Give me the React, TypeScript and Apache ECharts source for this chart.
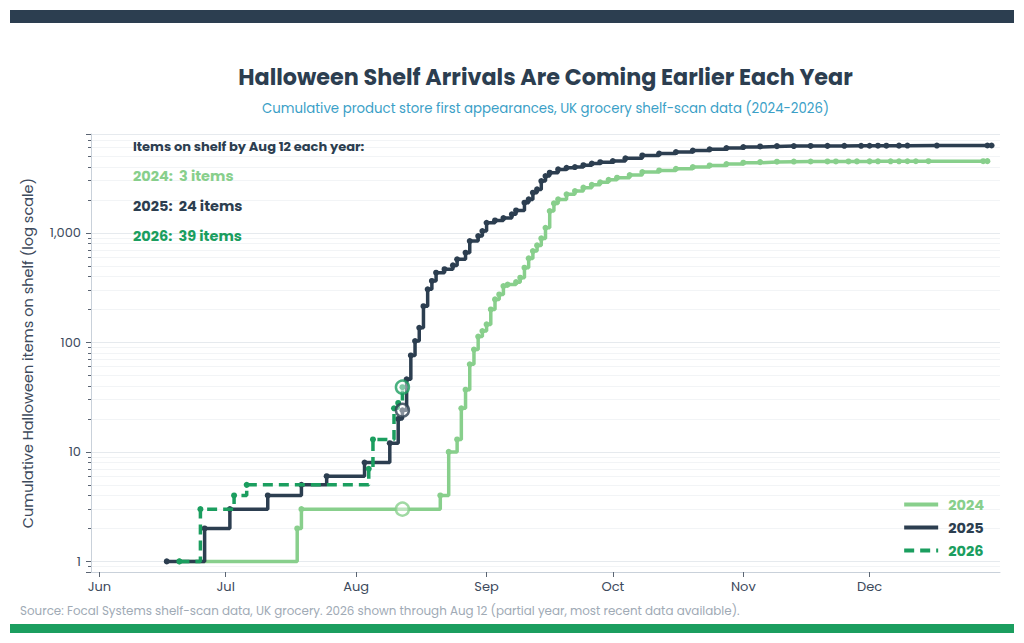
import React, { useEffect, useRef } from "react";
import * as echarts from "echarts";

const BASE_YEAR = 2025;
const FONT = "Poppins, Inter, 'Open Sans', sans-serif";

const monthLabels = ["Jun", "Jul", "Aug", "Sep", "Oct", "Nov", "Dec"];
const yTickValues = [1, 10, 100, 1000];

const seriesNames = ["2024", "2025", "2026"];
const seriesColors = ["#88cf8c", "#2c3e50", "#1b9e5f"];

const dates2024 = ["06-20","07-18","07-19","08-21","08-23","08-25","08-26","08-27","08-28","08-29","08-30","08-31","09-01","09-02","09-03","09-04","09-05","09-06","09-08","09-09","09-10","09-11","09-12","09-13","09-14","09-15","09-16","09-17","09-18","09-20","09-22","09-24","09-26","09-28","09-30","10-02","10-05","10-08","10-12","10-16","10-20","10-24","10-28","11-01","11-05","11-09","11-13","11-17","11-21","11-23","11-26","11-28","12-01","12-03","12-06","12-08","12-10","12-12","12-15","12-28","12-29"];
const values2024 = [1,2,3,4,10,13,25,37,63,86,113,127,146,200,247,274,327,337,355,390,481,585,682,769,891,1114,1581,1859,2023,2249,2411,2589,2750,2900,3050,3192,3370,3590,3720,3854,3990,4130,4250,4375,4430,4470,4480,4485,4490,4492,4495,4497,4500,4502,4505,4507,4510,4512,4515,4518,4520];

const dates2025 = ["06-17","06-26","07-02","07-11","07-19","07-25","08-03","08-09","08-11","08-12","08-13","08-14","08-15","08-16","08-17","08-18","08-19","08-20","08-22","08-24","08-25","08-27","08-28","08-30","08-31","09-01","09-03","09-05","09-07","09-08","09-10","09-11","09-12","09-13","09-14","09-15","09-16","09-18","09-20","09-22","09-24","09-26","09-28","10-01","10-04","10-08","10-12","10-16","10-20","10-24","10-28","11-01","11-05","11-09","11-13","11-17","11-21","11-25","11-29","12-01","12-03","12-05","12-08","12-10","12-17","12-29","12-30"];
const values2025 = [1,2,3,4,5,6,8,12,20,24,46,76,103,136,214,305,364,433,466,505,573,659,841,935,1038,1238,1300,1365,1476,1604,1888,2023,2329,2496,2973,3305,3548,3802,3930,3990,4150,4300,4420,4530,4800,5100,5300,5470,5640,5800,5950,6080,6160,6200,6210,6220,6230,6240,6245,6250,6255,6260,6265,6270,6275,6280,6285];

const dates2026 = ["06-20","06-25","07-03","07-06","08-04","08-05","08-10","08-11","08-12"];
const values2026 = [1,3,4,5,7,13,25,28,39];

const snapshotDate = "08-12";
const snapshotValues = [3, 24, 39];

const axisStart = "05-30";
const axisEndNextYear = "01-01";
const yMin = 0.8;
const yMax = 8000;

function toTime(md: string, yearOffset = 0): number {
  const [m, d] = md.split("-").map(Number);
  return new Date(BASE_YEAR + yearOffset, m - 1, d).getTime();
}

const allDates = [dates2024, dates2025, dates2026];
const allValues = [values2024, values2025, values2026];
const DAY = 24 * 3600 * 1000;

export default function App() {
  const ref = useRef<HTMLDivElement>(null);
  useEffect(() => {
    if (!ref.current) return;
    const chart = echarts.init(ref.current, undefined, { renderer: "svg" });

    const lineSeries = seriesNames.map((name, i) => ({
      name,
      type: "line",
      step: "end",
      data: allDates[i].map((d, j) => [toTime(d), allValues[i][j]]),
      symbol: "circle",
      symbolSize: 6,
      showSymbol: true,
      z: 2 + i,
      lineStyle: {
        width: 3.5,
        color: seriesColors[i],
        type: i === 2 ? [10, 6] : "solid",
      },
      itemStyle: { color: seriesColors[i] },
    }));

    const markerSeries = seriesNames.map((name, i) => ({
      name: name + " marker",
      type: "scatter",
      data: [[toTime(snapshotDate), snapshotValues[i]]],
      symbol: "circle",
      symbolSize: 13,
      z: 10,
      itemStyle: {
        color: "rgba(255,255,255,0.55)",
        borderColor: seriesColors[i],
        borderWidth: 2.5,
      },
    }));

    const annotationTexts = seriesNames.map((name, i) => ({
      type: "text",
      left: 133,
      top: 168 + i * 30,
      z: 100,
      style: {
        text: `${name}:  ${snapshotValues[i]} items`,
        fill: seriesColors[i],
        font: `bold 14.5px ${FONT}`,
      },
    }));

    chart.setOption({
      animation: false,
      backgroundColor: "#ffffff",
      grid: { left: 91, right: 24, top: 134, bottom: 71, containLabel: false },
      legend: {
        data: seriesNames.map((n, i) => ({ name: n, textStyle: { color: seriesColors[i] } })),
        orient: "vertical",
        right: 35,
        top: 492,
        itemWidth: 34,
        itemHeight: 14,
        itemGap: 8,
        itemStyle: { opacity: 0 },
        lineStyle: { width: 4 },
        textStyle: { fontSize: 14.5, fontWeight: "bold", fontFamily: FONT, padding: [0, 0, 0, 5] },
        selectedMode: false,
      },
      xAxis: {
        type: "time",
        min: toTime(axisStart),
        max: toTime(axisEndNextYear, 1),
        minInterval: 28 * DAY,
        maxInterval: 31 * DAY,
        axisLine: { show: true, lineStyle: { color: "#c9d1da", width: 1 } },
        axisTick: { show: true, length: 5, lineStyle: { color: "#5a6472" } },
        axisLabel: {
          formatter: (v: number) => {
            const dt = new Date(v);
            if (dt.getDate() !== 1) return "";
            return monthLabels[dt.getMonth() - 5] || "";
          },
          fontSize: 13,
          color: "#3d4a5c",
          fontFamily: FONT,
          margin: 8,
          showMinLabel: false,
          showMaxLabel: false,
        },
        splitLine: { show: false },
      },
      yAxis: {
        type: "log",
        logBase: 10,
        min: yMin,
        max: yMax,
        name: "Cumulative Halloween items on shelf (log scale)",
        nameLocation: "middle",
        nameGap: 56,
        nameTextStyle: { fontSize: 14.5, color: "#3d4a5c", fontFamily: FONT },
        axisLine: { show: true, lineStyle: { color: "#c9d1da" } },
        axisTick: { show: true, length: 5, lineStyle: { color: "#5a6472" } },
        minorTick: { show: true, splitNumber: 9, length: 3, lineStyle: { color: "#5a6472" } },
        axisLabel: {
          formatter: (v: number) => {
            const r = Math.round(v);
            return yTickValues.indexOf(r) >= 0 && Math.abs(v - r) < 1e-6 ? r.toLocaleString("en-US") : "";
          },
          fontSize: 13,
          color: "#3d4a5c",
          fontFamily: FONT,
          margin: 10,
        },
        splitLine: { show: true, lineStyle: { color: "#e6eaee" } },
        minorSplitLine: { show: true, lineStyle: { color: "#f2f4f6" } },
      },
      graphic: [
        { type: "rect", z: 100, shape: { x: 10, y: 10, width: 1004, height: 13 }, style: { fill: "#2c3e50" } },
        { type: "rect", z: 100, shape: { x: 10, y: 624, width: 1004, height: 9 }, style: { fill: "#1b9e5f" } },
        {
          type: "text",
          x: 545.5,
          y: 77,
          z: 100,
          style: {
            text: "Halloween Shelf Arrivals Are Coming Earlier Each Year",
            fill: "#2c3e50",
            font: `bold 22.3px ${FONT}`,
            textAlign: "center",
            textVerticalAlign: "middle",
          },
        },
        {
          type: "text",
          x: 545.5,
          y: 108,
          z: 100,
          style: {
            text: "Cumulative product store first appearances, UK grocery shelf-scan data (2024-2026)",
            fill: "#3b9fc7",
            font: `13.3px ${FONT}`,
            textAlign: "center",
            textVerticalAlign: "middle",
          },
        },
        {
          type: "text",
          left: 133,
          top: 140,
          z: 100,
          style: {
            text: "Items on shelf by Aug 12 each year:",
            fill: "#2c3e50",
            font: `bold 13px ${FONT}`,
          },
        },
        ...annotationTexts,
        {
          type: "text",
          left: 20,
          top: 605,
          z: 100,
          style: {
            text: "Source: Focal Systems shelf-scan data, UK grocery. 2026 shown through Aug 12 (partial year, most recent data available).",
            fill: "#a0aab5",
            font: `11.9px ${FONT}`,
          },
        },
      ],
      series: [...lineSeries, ...markerSeries],
    });
    return () => chart.dispose();
  }, []);
  return (
    <div
      ref={ref}
      style={{ position: "fixed", left: 0, top: 0, width: 1024, height: 643, background: "#fff" }}
    />
  );
}
